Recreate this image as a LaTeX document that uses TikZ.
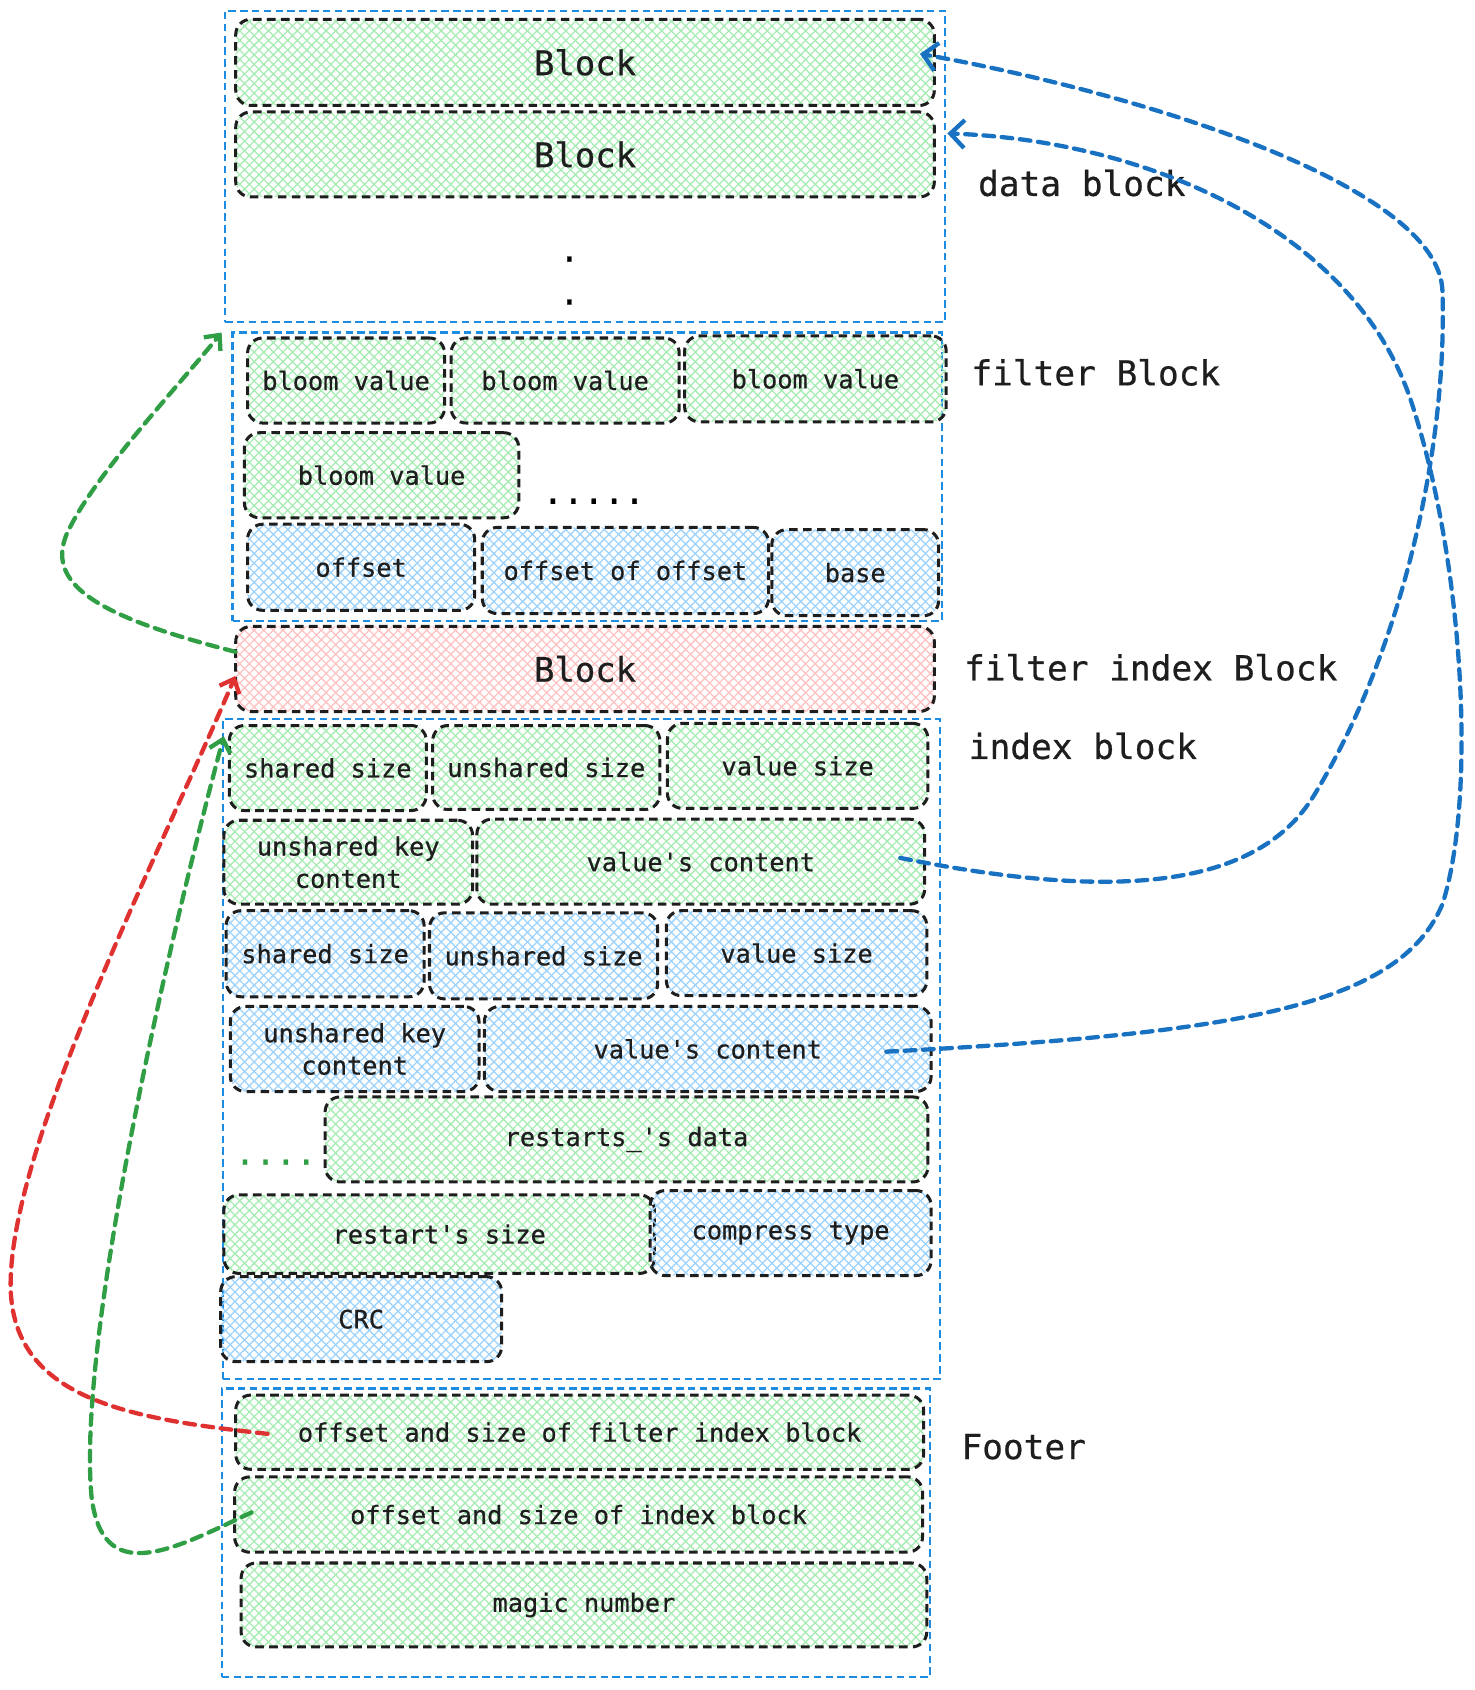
\documentclass[tikz,border=0pt]{standalone}
\usepackage{fontspec}
\setmonofont[FakeBold=0.6]{DejaVu Sans Mono}
\usetikzlibrary{arrows.meta,patterns.meta,calc}
\definecolor{ink}{HTML}{1E1E1E}
\definecolor{hgreen}{HTML}{A6ECB2}
\definecolor{hblue}{HTML}{9DD2FC}
\definecolor{hred}{HTML}{FFC2C2}
\definecolor{contblue}{HTML}{1C8CE3}
\definecolor{ablue}{HTML}{1971C2}
\definecolor{agreen}{HTML}{2F9E44}
\definecolor{ared}{HTML}{E03131}
\newcommand{\mybox}[7]{\node[#6, minimum width={(#4)-(#2)}, minimum height={(#5)-(#3)}] (#1) at ({((#2)+(#4))/2},{((#3)+(#5))/2}) {#7};}
\begin{document}
\begin{tikzpicture}[x=1pt,y=-1pt,
  hatch/.style={preaction={pattern={Lines[angle=-45,distance=6.3pt,line width=1.2pt]}, pattern color=#1},
                pattern={Lines[angle=45,distance=6.3pt,line width=1.2pt]}, pattern color=#1},
  box/.style={draw=ink, line width=2.8pt, dash pattern=on 8pt off 5pt, rounded corners=14pt,
              inner sep=0pt, align=center, text=ink, font=\fontsize{23.5}{30}\selectfont\ttfamily},
  gbox/.style={box, hatch=hgreen},
  bbox/.style={box, hatch=hblue},
  rbox/.style={box, hatch=hred},
  big/.style={font=\fontsize{31.5}{36}\selectfont\ttfamily},
  cont/.style={draw=contblue, line width=2.2pt, dash pattern=on 7pt off 4pt, inner sep=0pt},
  lab/.style={font=\fontsize{32}{38}\selectfont\ttfamily, text=ink, inner sep=0pt},
  arr/.style={line width=4pt, dash pattern=on 10pt off 7pt, line cap=round},
  smalltip/.style={-{Straight Barb[length=11pt,width=20pt]}},
  bigtip/.style={-{Straight Barb[length=13pt,width=26pt]}}
]
\useasboundingbox (0,0) rectangle (1370,1570);

% containers
\mybox{dataC}{209}{10}{878}{299}{cont}{}
\mybox{filterC}{216}{309}{875}{577}{cont}{}
\mybox{indexC}{207}{668}{873}{1281}{cont}{}
\mybox{footC}{206}{1290}{864}{1558}{cont}{}

% data block
\mybox{blk1}{219}{18}{868}{98}{gbox,big}{Block}
\mybox{blk2}{219}{104}{868}{183}{gbox,big}{Block}
\node[big, anchor=base, inner sep=0pt] (dot1) at (529,243) {.};
\node[big, anchor=base, inner sep=0pt] (dot2) at (529,283) {.};

% filter block
\mybox{bv1}{230}{314}{413}{393}{gbox}{bloom value}
\mybox{bv2}{419}{314}{631}{393}{gbox}{bloom value}
\mybox{bv3}{636}{312}{879}{392}{gbox}{bloom value}
\mybox{bv4}{227}{402}{482}{481}{gbox}{bloom value}
\node[big, anchor=base west, inner sep=0pt] (fdots) at (504,468) {.....};
\mybox{off}{230}{487}{441}{567}{bbox}{offset}
\mybox{offoff}{448}{490}{714}{570}{bbox}{offset of offset}
\mybox{base}{717}{492}{872}{572}{bbox}{base}

% filter index block
\mybox{fib}{219}{582}{868}{661}{rbox,big}{Block}

% index block
\mybox{ss1}{213}{674}{396}{753}{gbox}{shared size}
\mybox{us1}{402}{674}{613}{752}{gbox}{unshared size}
\mybox{vs1}{620}{672}{862}{751}{gbox}{value size}
\mybox{uk1}{208}{762}{439}{840}{gbox}{unshared key\\content}
\mybox{vc1}{443}{761}{859}{840}{gbox}{value's content}
\mybox{ss2}{210}{846}{394}{926}{bbox}{shared size}
\mybox{us2}{399}{848}{611}{928}{bbox}{unshared size}
\mybox{vs2}{619}{846}{861}{925}{bbox}{value size}
\mybox{uk2}{214}{935}{445}{1014}{bbox}{unshared key\\content}
\mybox{vc2}{450}{935}{865}{1014}{bbox}{value's content}
\node[big, anchor=base west, inner sep=0pt, text=agreen] (idots) at (218,1082) {....};
\mybox{rd}{302}{1019}{862}{1098}{gbox}{restarts\_'s data}
\mybox{rs}{208}{1110}{608}{1183}{gbox}{restart's size}
\mybox{ct}{604}{1106}{865}{1185}{bbox}{compress type}
\mybox{crc}{205}{1186}{466}{1265}{bbox}{CRC}

% footer
\mybox{f1}{219}{1296}{858}{1365}{gbox}{offset and size of filter index block}
\mybox{f2}{218}{1372}{857}{1442}{gbox}{offset and size of index block}
\mybox{f3}{224}{1452}{861}{1530}{gbox}{magic number}

% labels
\node[lab] (ldata) at (1005,170) {data block};
\node[lab] (lfilter) at (1018,346) {filter Block};
\node[lab] (lfib) at (1069,620) {filter index Block};
\node[lab] (lindex) at (1006,693) {index block};
\node[lab] (lfoot) at (951,1344) {Footer};

% connectors
\coordinate (b1s) at ($(vc1.east)+(-24,-3.5)$);
\coordinate (b1e) at ($(blk1.east)+(-14,-8)$);
\draw[arr, ablue, bigtip] (b1s) .. controls (1050,840) and (1170,820) .. (1220,740)
   .. controls (1300,610) and (1345,420) .. (1340,270)
   .. controls (1336,170) and (1050,85) .. (b1e);

\coordinate (b2s) at ($(vc2.east)+(-43,2.5)$);
\coordinate (b2e) at ($(dataC.east)+(1,-30.5)$);
\draw[arr, ablue, bigtip] (b2s) .. controls (1150,960) and (1300,935) .. (1340,840)
   .. controls (1372,740) and (1360,520) .. (1310,370)
   .. controls (1255,210) and (1060,130) .. (b2e);

\coordinate (g1s) at ($(fib.west)+(1,-16)$);
\coordinate (g1e) at ($(filterC.north west)+(-9,1)$);
\draw[arr, agreen, smalltip] (g1s) .. controls (100,575) and (35,545) .. (65,490)
   .. controls (90,440) and (160,365) .. (g1e);

\coordinate (rs0) at ($(f1.west)+(31,1.5)$);
\coordinate (re0) at ($(fib.west)+(1,6.5)$);
\draw[arr, ared, smalltip] (rs0) .. controls (120,1318) and (15,1300) .. (10,1200)
   .. controls (5,1070) and (150,790) .. (re0);

\coordinate (g2s) at ($(f2.west)+(17,-2)$);
\coordinate (g2e) at ($(indexC.north west)+(2,17)$);
\draw[arr, agreen, smalltip] (g2s) .. controls (160,1440) and (95,1475) .. (85,1390)
   .. controls (72,1250) and (150,900) .. (g2e);
\end{tikzpicture}
\end{document}
